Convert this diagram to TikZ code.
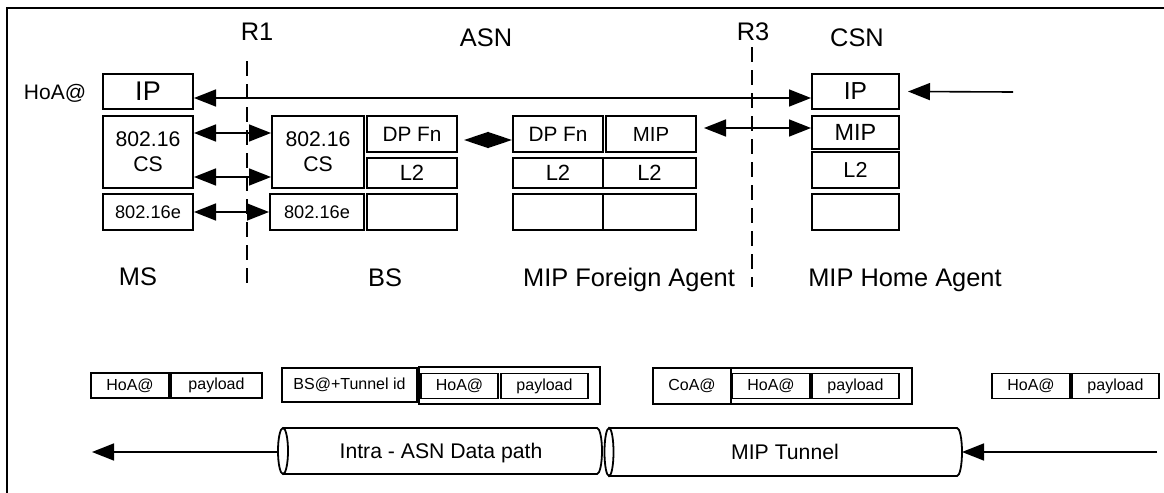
\documentclass[tikz,border=0pt]{standalone}
\usepackage{fontspec}
\setmainfont{Liberation Sans}
\usetikzlibrary{arrows.meta}

\tikzset{
  layer/.style={draw,line width=1pt,inner sep=0pt,align=center,font=\fontsize{10.6}{12.5}\selectfont},
  pkt/.style={draw,line width=0.9pt,inner sep=0pt,minimum height=12.5pt,font=\fontsize{8}{9.5}\selectfont},
  lbl/.style={inner sep=0pt,anchor=base,font=\fontsize{12.7}{15}\selectfont},
  tube/.style={inner sep=0pt,anchor=base,font=\fontsize{10.6}{12.5}\selectfont},
  arr/.style={line width=0.8pt,-{Triangle[length=11pt,width=8.5pt]}},
  dbl/.style={line width=0.8pt,{Triangle[length=11pt,width=8.5pt]}-{Triangle[length=11pt,width=8.5pt]}},
  diam/.style={line width=0.8pt,{Triangle[length=12.25pt,width=8pt]}-{Triangle[length=12.25pt,width=8pt]}},
  rline/.style={line width=0.7pt,dash pattern=on 7.5pt off 4pt},
}

\begin{document}
\begin{tikzpicture}[x=0.5pt,y=-0.5pt]
  \useasboundingbox (0,0) rectangle (1164,493);
  \draw[line width=1pt] (1164,8) -- (7,8) -- (7,493);

  % reference points
  \draw[rline] (247,61) -- (247,290);
  \draw[rline] (752,47) -- (752,287);
  \node[lbl] (r1) at (257,40) {R1};
  \node[lbl] (asn) at (486,46) {ASN};
  \node[lbl] (r3) at (753,40) {R3};
  \node[lbl] (csn) at (857,46.5) {CSN};
  \node[lbl,font=\fontsize{10.5}{12}\selectfont] (hoa) at (55,99) {HoA@};

  % MS
  \node[layer,minimum width=45pt,minimum height=17.5pt,font=\fontsize{13.5}{15}\selectfont] (msip) at (148,91.5) {IP};
  \node[layer,minimum width=45pt,minimum height=36pt] (mscs) at (148,152) {802.16\\CS};
  \node[layer,minimum width=45pt,minimum height=18pt,font=\fontsize{9.1}{11}\selectfont] (msphy) at (148,212) {802.16e};

  % BS
  \node[layer,minimum width=46pt,minimum height=36pt] (bscs) at (318,152) {802.16\\CS};
  \node[layer,minimum width=47pt,minimum height=18pt,font=\fontsize{9.1}{11}\selectfont] (bsphy) at (317,212) {802.16e};
  \node[layer,minimum width=45pt,minimum height=18pt,font=\fontsize{10.4}{12}\selectfont] (bsdp) at (412,134) {DP Fn};
  \node[layer,minimum width=45pt,minimum height=15pt,font=\fontsize{11}{13}\selectfont] (bsl2) at (412,173) {L2};
  \node[layer,minimum width=45pt,minimum height=18pt] (bsnil) at (412,212) {};

  % foreign agent
  \node[layer,minimum width=45pt,minimum height=18pt,font=\fontsize{10.4}{12}\selectfont] (fadp) at (558,134) {DP Fn};
  \node[layer,minimum width=45pt,minimum height=18pt,font=\fontsize{10.2}{12}\selectfont] (famip) at (651,134) {MIP};
  \node[layer,minimum width=45pt,minimum height=15pt,font=\fontsize{11}{13}\selectfont] (fal2) at (558,173) {L2};
  \node[layer,minimum width=46.5pt,minimum height=15pt,font=\fontsize{11}{13}\selectfont] (fal2b) at (649.5,173) {L2};
  \node[layer,minimum width=45pt,minimum height=18pt] (fanil) at (558,212) {};
  \node[layer,minimum width=46.5pt,minimum height=18pt] (fanilb) at (649.5,212) {};

  % home agent
  \node[layer,minimum width=43.5pt,minimum height=17.5pt,font=\fontsize{12.3}{14}\selectfont] (haip) at (855.5,91.5) {IP};
  \node[layer,minimum width=43.5pt,minimum height=16.5pt,font=\fontsize{11.7}{13}\selectfont] (hamip) at (855.5,132.5) {MIP};
  \node[layer,minimum width=43.5pt,minimum height=18pt,font=\fontsize{10.8}{12}\selectfont] (hal2) at (855.5,170) {L2};
  \node[layer,minimum width=43.5pt,minimum height=18pt] (hanil) at (855.5,212) {};

  \node[lbl] (ms) at (138,285) {MS};
  \node[lbl] (bs) at (385,286) {BS};
  \node[lbl] (fa) at (629,286) {MIP Foreign Agent};
  \node[lbl] (ha) at (905,286) {MIP Home Agent};

  % links
  \draw[dbl] ([yshift=-3.25pt]msip.east) -- ([yshift=-3.25pt]haip.west);
  \draw[dbl] ([yshift=9.5pt]mscs.east) -- ([yshift=9.5pt]bscs.west);
  \draw[dbl] ([yshift=-12.5pt]mscs.east) -- ([yshift=-12.5pt]bscs.west);
  \draw[dbl] (msphy.east) -- (bsphy.west);
  \draw[diam] ([xshift=3pt,yshift=-3pt]bsdp.east) -- ([yshift=-3pt]fadp.west);
  \draw[dbl] ([xshift=3.5pt,yshift=3pt]famip.east) -- ([yshift=2.25pt]hamip.west);
  \coordinate (hain) at (1013,92);
  \draw[arr] (hain) -- ([xshift=4pt]haip.east);

  % packets
  \node[pkt,minimum width=39pt] (ahoa) at (130,385.5) {HoA@};
  \node[pkt,minimum width=45.5pt] (apay) at (216.5,385.5) {payload};
  \node[pkt,minimum width=67.5pt,minimum height=17pt] (bbs) at (349.5,385) {BS@+Tunnel id};
  \node[pkt,minimum width=90.5pt,minimum height=18.5pt] (bout) at (509.5,385.5) {};
  \node[pkt,minimum width=38.5pt] (bhoa) at (459.5,386) {HoA@};
  \node[pkt,minimum width=43.5pt] (bpay) at (544.5,386) {payload};
  \node[pkt,minimum width=39pt,minimum height=18pt] (ccoa) at (692,386) {CoA@};
  \node[pkt,minimum width=90.5pt,minimum height=18pt] (cout) at (821.5,386) {};
  \node[pkt,minimum width=39pt] (choa) at (771,386) {HoA@};
  \node[pkt,minimum width=43.5pt] (cpay) at (855.5,386) {payload};
  \node[pkt,minimum width=39pt] (dhoa) at (1031,386) {HoA@};
  \node[pkt,minimum width=43.5pt] (dpay) at (1115.5,386) {payload};

  % tunnels
  \draw[line width=0.9pt] (283,428) -- (597,428) arc[start angle=-90,end angle=90,x radius=5,y radius=23] -- (283,474);
  \draw[line width=0.9pt] (283,451) ellipse[x radius=5,y radius=23];
  \draw[line width=0.9pt] (609,428) -- (957,428) arc[start angle=-90,end angle=90,x radius=5,y radius=24] -- (609,476);
  \draw[line width=0.9pt] (609,452) ellipse[x radius=4.5,y radius=24];
  \node[tube] (intra) at (441,458) {Intra - ASN Data path};
  \node[tube] (miptun) at (785,459.5) {MIP Tunnel};

  \coordinate (c1w) at (278,452);
  \coordinate (msout) at (92,452);
  \draw[arr] (c1w) -- (msout);
  \coordinate (hain2) at (1157,452);
  \coordinate (c2e) at (962,452);
  \draw[arr] (hain2) -- (c2e);
\end{tikzpicture}
\end{document}
